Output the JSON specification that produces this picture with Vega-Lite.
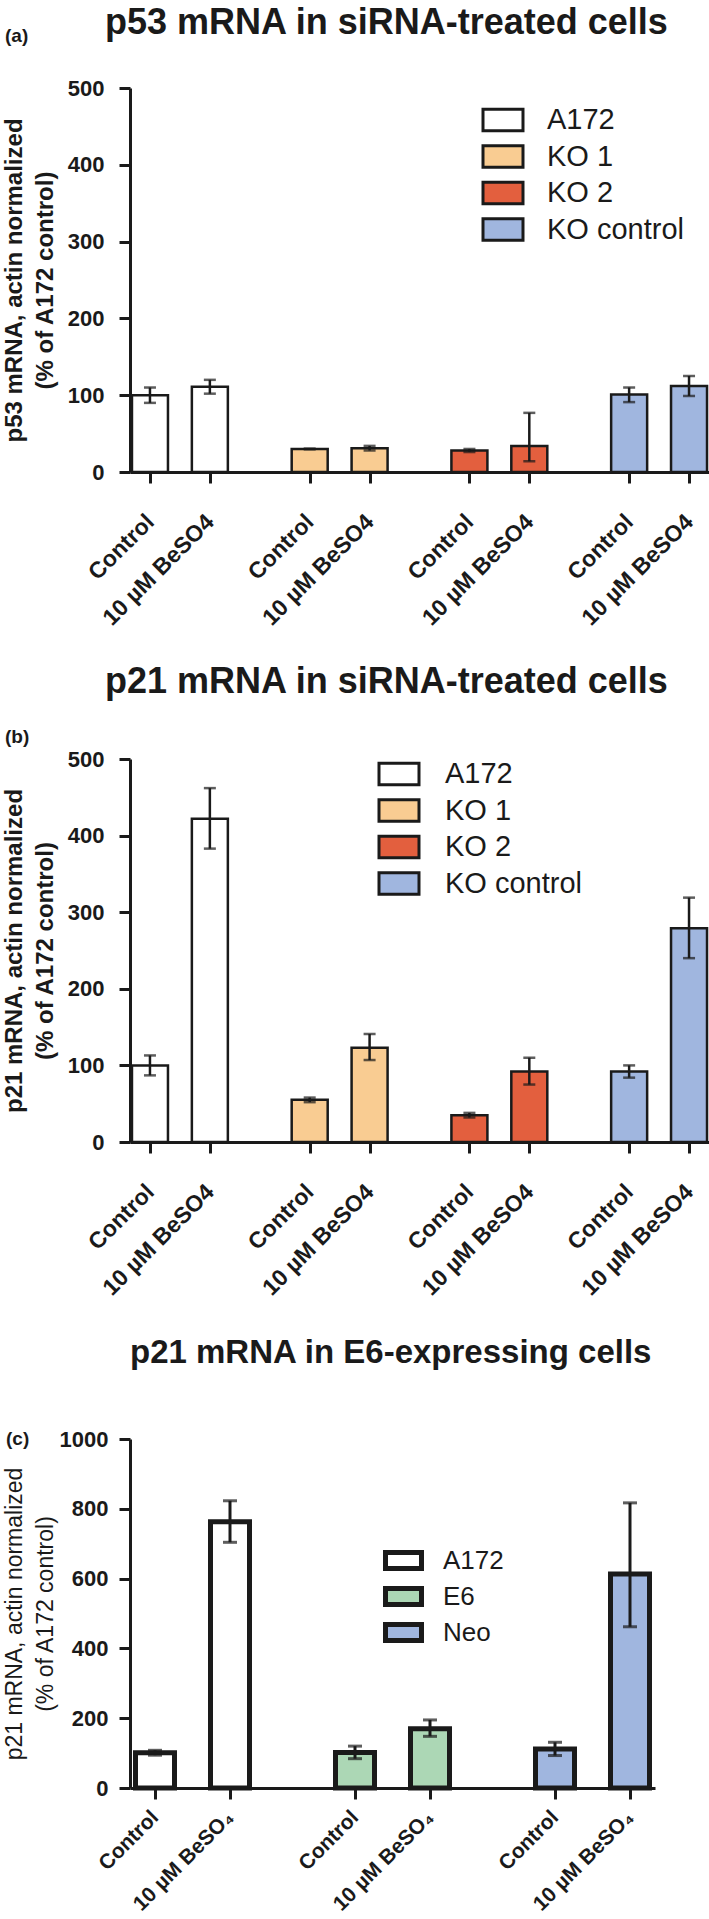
{
  "$schema": "https://vega.github.io/schema/vega-lite/v6.json",
  "padding": {"left": 2, "top": 5, "right": 0, "bottom": 0},
  "background": "white",
  "datasets": {
    "a": [
      {"cell": "A172", "bar": "A172 Control", "mean": 100, "lo": 90, "hi": 110},
      {"cell": "A172", "bar": "A172 BeSO4", "mean": 111, "lo": 102, "hi": 120},
      {"cell": "KO 1", "bar": "KO 1 Control", "mean": 30, "lo": 29.5, "hi": 30.5},
      {"cell": "KO 1", "bar": "KO 1 BeSO4", "mean": 31, "lo": 28, "hi": 34},
      {"cell": "KO 2", "bar": "KO 2 Control", "mean": 28, "lo": 26, "hi": 30},
      {"cell": "KO 2", "bar": "KO 2 BeSO4", "mean": 34, "lo": 14, "hi": 77},
      {"cell": "KO control", "bar": "KO control Control", "mean": 101, "lo": 91, "hi": 110},
      {"cell": "KO control", "bar": "KO control BeSO4", "mean": 112, "lo": 99, "hi": 125}
    ],
    "b": [
      {"cell": "A172", "bar": "A172 Control", "mean": 100, "lo": 87, "hi": 113},
      {"cell": "A172", "bar": "A172 BeSO4", "mean": 422, "lo": 383, "hi": 462},
      {"cell": "KO 1", "bar": "KO 1 Control", "mean": 55, "lo": 52, "hi": 58},
      {"cell": "KO 1", "bar": "KO 1 BeSO4", "mean": 123, "lo": 107, "hi": 141},
      {"cell": "KO 2", "bar": "KO 2 Control", "mean": 35, "lo": 32, "hi": 38},
      {"cell": "KO 2", "bar": "KO 2 BeSO4", "mean": 92, "lo": 75, "hi": 110},
      {"cell": "KO control", "bar": "KO control Control", "mean": 92, "lo": 84, "hi": 100},
      {"cell": "KO control", "bar": "KO control BeSO4", "mean": 279, "lo": 240, "hi": 319}
    ],
    "c": [
      {"cell": "A172", "bar": "A172 Control", "mean": 101, "lo": 94, "hi": 108},
      {"cell": "A172", "bar": "A172 BeSO4", "mean": 763, "lo": 704, "hi": 823},
      {"cell": "E6", "bar": "E6 Control", "mean": 102, "lo": 84, "hi": 120},
      {"cell": "E6", "bar": "E6 BeSO4", "mean": 170, "lo": 148, "hi": 195},
      {"cell": "Neo", "bar": "Neo Control", "mean": 112, "lo": 93, "hi": 131},
      {"cell": "Neo", "bar": "Neo BeSO4", "mean": 613, "lo": 462, "hi": 817}
    ]
  },
  "spacing": 34,
  "resolve": {"scale": {"fill": "independent", "x": "independent", "y": "independent"}, "legend": {"fill": "independent"}, "axis": {"x": "independent", "y": "independent"}},
  "vconcat": [
    {
      "title": {"text": "p53 mRNA in siRNA-treated cells", "anchor": "start", "frame": "group", "dx": -25, "fontSize": 36, "offset": -15},
      "vconcat": [
        {
          "title": {"text": "(a)", "anchor": "start", "frame": "bounds", "fontSize": 19, "offset": 31, "dx": 3},
          "width": 579,
          "height": 384,
          "data": {"name": "a"},
          "encoding": {
            "x": {
              "field": "bar", "type": "nominal",
              "scale": {"type": "point", "padding": 2.55, "domain": ["A172 Control", "_1", "_2", "A172 BeSO4", "_4", "_5", "_6", "_7", "KO 1 Control", "_9", "_10", "KO 1 BeSO4", "_12", "_13", "_14", "_15", "KO 2 Control", "_17", "_18", "KO 2 BeSO4", "_20", "_21", "_22", "_23", "KO control Control", "_25", "_26", "KO control BeSO4"]},
              "axis": {"title": null, "values": ["A172 Control", "A172 BeSO4", "KO 1 Control", "KO 1 BeSO4", "KO 2 Control", "KO 2 BeSO4", "KO control Control", "KO control BeSO4"], "labelExpr": "indexof(datum.value, 'BeSO4') >= 0 ? '10 µM BeSO4' : 'Control'", "labelAngle": -45, "labelAlign": "right", "labelBaseline": "middle", "labelFontSize": 23, "labelPadding": 35, "labelOverlap": false}
            }
          },
          "layer": [
            {
              "mark": {"type": "bar", "size": 36, "stroke": "#1a1a1a", "strokeWidth": 2.5},
              "encoding": {
                "y": {"field": "mean", "type": "quantitative", "scale": {"domain": [0, 500], "nice": false},
                  "axis": {"title": ["p53 mRNA, actin normalized", "(% of A172 control)"], "values": [0, 100, 200, 300, 400, 500], "labelFontSize": 22, "labelPadding": 15, "titleFontSize": 24, "titleFontWeight": "bold", "titleLineHeight": 31, "titlePadding": 11, "minExtent": 62, "maxExtent": 62}},
                "fill": {"field": "cell", "type": "nominal",
                  "scale": {"domain": ["A172", "KO 1", "KO 2", "KO control"], "range": ["#ffffff", "#f9cc92", "#e35f3e", "#a0b6df"]},
                  "legend": {"title": null, "orient": "none", "legendX": 358, "legendY": 17, "symbolType": "M-1.5,-0.8H1.5V0.8H-1.5Z", "symbolSize": 711, "symbolStrokeWidth": 3, "symbolStrokeColor": "#1a1a1a", "labelFontSize": 29, "labelOffset": 29, "rowPadding": 2.5, "padding": 0}}
              }
            },
            {
              "mark": {"type": "rule", "strokeWidth": 2.5, "color": "#1a1a1a"},
              "encoding": {"y": {"field": "lo", "type": "quantitative"}, "y2": {"field": "hi"}}
            },
            {
              "mark": {"type": "tick", "orient": "horizontal", "size": 12, "thickness": 2.5, "color": "#1a1a1a"},
              "encoding": {"y": {"field": "lo", "type": "quantitative"}}
            },
            {
              "mark": {"type": "tick", "orient": "horizontal", "size": 12, "thickness": 2.5, "color": "#1a1a1a"},
              "encoding": {"y": {"field": "hi", "type": "quantitative"}}
            }
          ]
        }
      ]
    },
    {
      "spacing": 37,
      "resolve": {"scale": {"fill": "independent", "x": "independent", "y": "independent"}, "legend": {"fill": "independent"}},
      "vconcat": [
        {
          "title": {"text": "p21 mRNA in siRNA-treated cells", "anchor": "start", "frame": "group", "dx": -25, "fontSize": 36, "offset": 27},
          "vconcat": [
            {
              "title": {"text": "(b)", "anchor": "start", "frame": "bounds", "fontSize": 19, "offset": 1, "dx": 3},
              "width": 579,
              "height": 383,
              "data": {"name": "b"},
              "encoding": {
                "x": {
                  "field": "bar", "type": "nominal",
                  "scale": {"type": "point", "padding": 2.55, "domain": ["A172 Control", "_1", "_2", "A172 BeSO4", "_4", "_5", "_6", "_7", "KO 1 Control", "_9", "_10", "KO 1 BeSO4", "_12", "_13", "_14", "_15", "KO 2 Control", "_17", "_18", "KO 2 BeSO4", "_20", "_21", "_22", "_23", "KO control Control", "_25", "_26", "KO control BeSO4"]},
                  "axis": {"title": null, "values": ["A172 Control", "A172 BeSO4", "KO 1 Control", "KO 1 BeSO4", "KO 2 Control", "KO 2 BeSO4", "KO control Control", "KO control BeSO4"], "labelExpr": "indexof(datum.value, 'BeSO4') >= 0 ? '10 µM BeSO4' : 'Control'", "labelAngle": -45, "labelAlign": "right", "labelBaseline": "middle", "labelFontSize": 23, "labelPadding": 35, "labelOverlap": false}
                }
              },
              "layer": [
                {
                  "mark": {"type": "bar", "size": 36, "stroke": "#1a1a1a", "strokeWidth": 2.5},
                  "encoding": {
                    "y": {"field": "mean", "type": "quantitative", "scale": {"domain": [0, 500], "nice": false},
                      "axis": {"title": ["p21 mRNA, actin normalized", "(% of A172 control)"], "values": [0, 100, 200, 300, 400, 500], "labelFontSize": 22, "labelPadding": 15, "titleFontSize": 24, "titleFontWeight": "bold", "titleLineHeight": 31, "titlePadding": 11, "minExtent": 62, "maxExtent": 62}},
                    "fill": {"field": "cell", "type": "nominal",
                      "scale": {"domain": ["A172", "KO 1", "KO 2", "KO control"], "range": ["#ffffff", "#f9cc92", "#e35f3e", "#a0b6df"]},
                      "legend": {"title": null, "orient": "none", "legendX": 254, "legendY": 0, "symbolType": "M-1.5,-0.8H1.5V0.8H-1.5Z", "symbolSize": 711, "symbolStrokeWidth": 3, "symbolStrokeColor": "#1a1a1a", "labelFontSize": 29, "labelOffset": 31, "rowPadding": 2.5, "padding": 0}}
                  }
                },
                {
                  "mark": {"type": "rule", "strokeWidth": 2.5, "color": "#1a1a1a"},
                  "encoding": {"y": {"field": "lo", "type": "quantitative"}, "y2": {"field": "hi"}}
                },
                {
                  "mark": {"type": "tick", "orient": "horizontal", "size": 12, "thickness": 2.5, "color": "#1a1a1a"},
                  "encoding": {"y": {"field": "lo", "type": "quantitative"}}
                },
                {
                  "mark": {"type": "tick", "orient": "horizontal", "size": 12, "thickness": 2.5, "color": "#1a1a1a"},
                  "encoding": {"y": {"field": "hi", "type": "quantitative"}}
                }
              ]
            }
          ]
        },
        {
          "title": {"text": "p21 mRNA in E6-expressing cells", "anchor": "start", "frame": "group", "dx": 0, "fontSize": 33, "offset": 58},
          "vconcat": [
            {
              "title": {"text": "(c)", "anchor": "start", "frame": "bounds", "fontSize": 19, "offset": 0, "dx": 3, "dy": 21},
              "width": 525,
              "height": 349,
              "data": {"name": "c"},
              "encoding": {
                "x": {
                  "field": "bar", "type": "nominal",
                  "scale": {"type": "point", "padding": 2.53, "domain": ["A172 Control", "_1", "_2", "A172 BeSO4", "_4", "_5", "_6", "_7", "E6 Control", "_9", "_10", "E6 BeSO4", "_12", "_13", "_14", "_15", "Neo Control", "_17", "_18", "Neo BeSO4"]},
                  "axis": {"title": null, "values": ["A172 Control", "A172 BeSO4", "E6 Control", "E6 BeSO4", "Neo Control", "Neo BeSO4"], "labelExpr": "indexof(datum.value, 'BeSO4') >= 0 ? '10 µM BeSO₄' : 'Control'", "labelAngle": -45, "labelAlign": "right", "labelBaseline": "middle", "labelFontSize": 21, "labelPadding": 15, "labelOverlap": false}
                }
              },
              "layer": [
                {
                  "mark": {"type": "bar", "size": 39, "stroke": "#1a1a1a", "strokeWidth": 5},
                  "encoding": {
                    "y": {"field": "mean", "type": "quantitative", "scale": {"domain": [0, 1000], "nice": false},
                      "axis": {"title": ["p21 mRNA, actin normalized", "(% of A172 control)"], "values": [0, 200, 400, 600, 800, 1000], "format": "d", "labelFontSize": 22, "labelPadding": 11, "titleFontSize": 23, "titleFontWeight": "normal", "titleLineHeight": 31, "titlePadding": 11, "minExtent": 62, "maxExtent": 62}},
                    "fill": {"field": "cell", "type": "nominal",
                      "scale": {"domain": ["A172", "E6", "Neo"], "range": ["#ffffff", "#acd7b5", "#a0b6df"]},
                      "legend": {"title": null, "orient": "none", "legendX": 259, "legendY": 107, "symbolType": "M-1.5,-0.67H1.5V0.67H-1.5Z", "symbolSize": 576, "symbolStrokeWidth": 5, "symbolStrokeColor": "#1a1a1a", "labelFontSize": 26, "labelOffset": 25, "rowPadding": -1, "padding": 0}}
                  }
                },
                {
                  "mark": {"type": "rule", "strokeWidth": 3, "color": "#1a1a1a"},
                  "encoding": {"y": {"field": "lo", "type": "quantitative"}, "y2": {"field": "hi"}}
                },
                {
                  "mark": {"type": "tick", "orient": "horizontal", "size": 14, "thickness": 3, "color": "#1a1a1a"},
                  "encoding": {"y": {"field": "lo", "type": "quantitative"}}
                },
                {
                  "mark": {"type": "tick", "orient": "horizontal", "size": 14, "thickness": 3, "color": "#1a1a1a"},
                  "encoding": {"y": {"field": "hi", "type": "quantitative"}}
                }
              ]
            }
          ]
        }
      ]
    }
  ],
  "config": {
    "font": "Liberation Sans",
    "view": {"stroke": null},
    "title": {"font": "Liberation Sans", "fontWeight": "bold", "color": "#1a1a1a"},
    "axis": {"grid": false, "domainColor": "#1a1a1a", "tickColor": "#1a1a1a", "labelColor": "#1a1a1a", "titleColor": "#1a1a1a", "domainWidth": 3, "tickWidth": 3, "tickSize": 11, "labelFont": "Liberation Sans", "labelFontWeight": "bold", "titleFont": "Liberation Sans"},
    "legend": {"labelFont": "Liberation Sans", "labelColor": "#1a1a1a"}
  }
}
